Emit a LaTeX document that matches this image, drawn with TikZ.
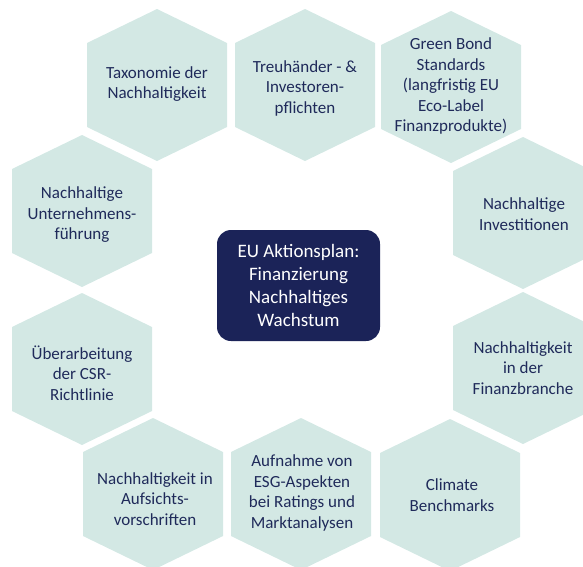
\documentclass[tikz,border=0pt]{standalone}
\usepackage{fontspec}
\setmainfont{Carlito}
\usetikzlibrary{backgrounds}
\definecolor{wabengruen}{HTML}{D3E8E4}
\definecolor{nachtblau}{HTML}{1B2358}
\definecolor{textblau}{HTML}{1F2A5A}

\begin{document}
\begin{tikzpicture}[
    x=1pt, y=-1pt,
    wabe/.style={text=textblau, align=center, inner sep=0pt,
        font=\fontsize{17}{20.5}\selectfont},
    kern/.style={fill=nachtblau, text=white, align=center, rounded corners=14pt,
        minimum width=163pt, minimum height=111pt,
        font=\fontsize{19}{22.7}\selectfont}
]
\useasboundingbox (0,0) rectangle (583,566);

% Mitte
\node[kern] (plan) at (298.5,285.5) {EU Aktionsplan:\\Finanzierung\\Nachhaltiges\\Wachstum};

% Waben im Uhrzeigersinn
\node[wabe] (taxo) at (157,84) {Taxonomie der\\Nachhaltigkeit};
\node[wabe] (treu) at (305,88) {Treuhänder - \&\\Investoren-\\pflichten};
\node[wabe] (bond) at (451,86) {Green Bond\\Standards\\(langfristig EU\\Eco-Label\\Finanzprodukte)};
\node[wabe] (inv) at (524,214) {Nachhaltige\\Investitionen};
\node[wabe] (fin) at (523,368) {Nachhaltigkeit\\in der\\Finanzbranche};
\node[wabe] (clim) at (452,495) {Climate\\Benchmarks};
\node[wabe] (esg) at (302,493) {Aufnahme von\\ESG-Aspekten\\bei Ratings und\\Marktanalysen};
\node[wabe] (aufs) at (155,499) {Nachhaltigkeit in\\Aufsichts-\\vorschriften};
\node[wabe] (csr) at (82,373) {Überarbeitung\\der CSR-\\Richtlinie};
\node[wabe] (unt) at (82,215) {Nachhaltige\\Unternehmens-\\führung};

% Sechsecke hinter den Texten
\begin{scope}[on background layer]
\foreach \w/\pos in {taxo/{157,85}, treu/{305,85}, bond/{451,87}, inv/{523,213},
    fin/{523,368}, clim/{450,495}, esg/{301,494}, aufs/{153,494},
    csr/{82,369}, unt/{82,211}}
  \fill[wabengruen] (\pos) ++(0,-76) -- ++(70,34) -- ++(0,84) -- ++(-70,34)
    -- ++(-70,-34) -- ++(0,-84) -- cycle;
\end{scope}
\end{tikzpicture}
\end{document}
